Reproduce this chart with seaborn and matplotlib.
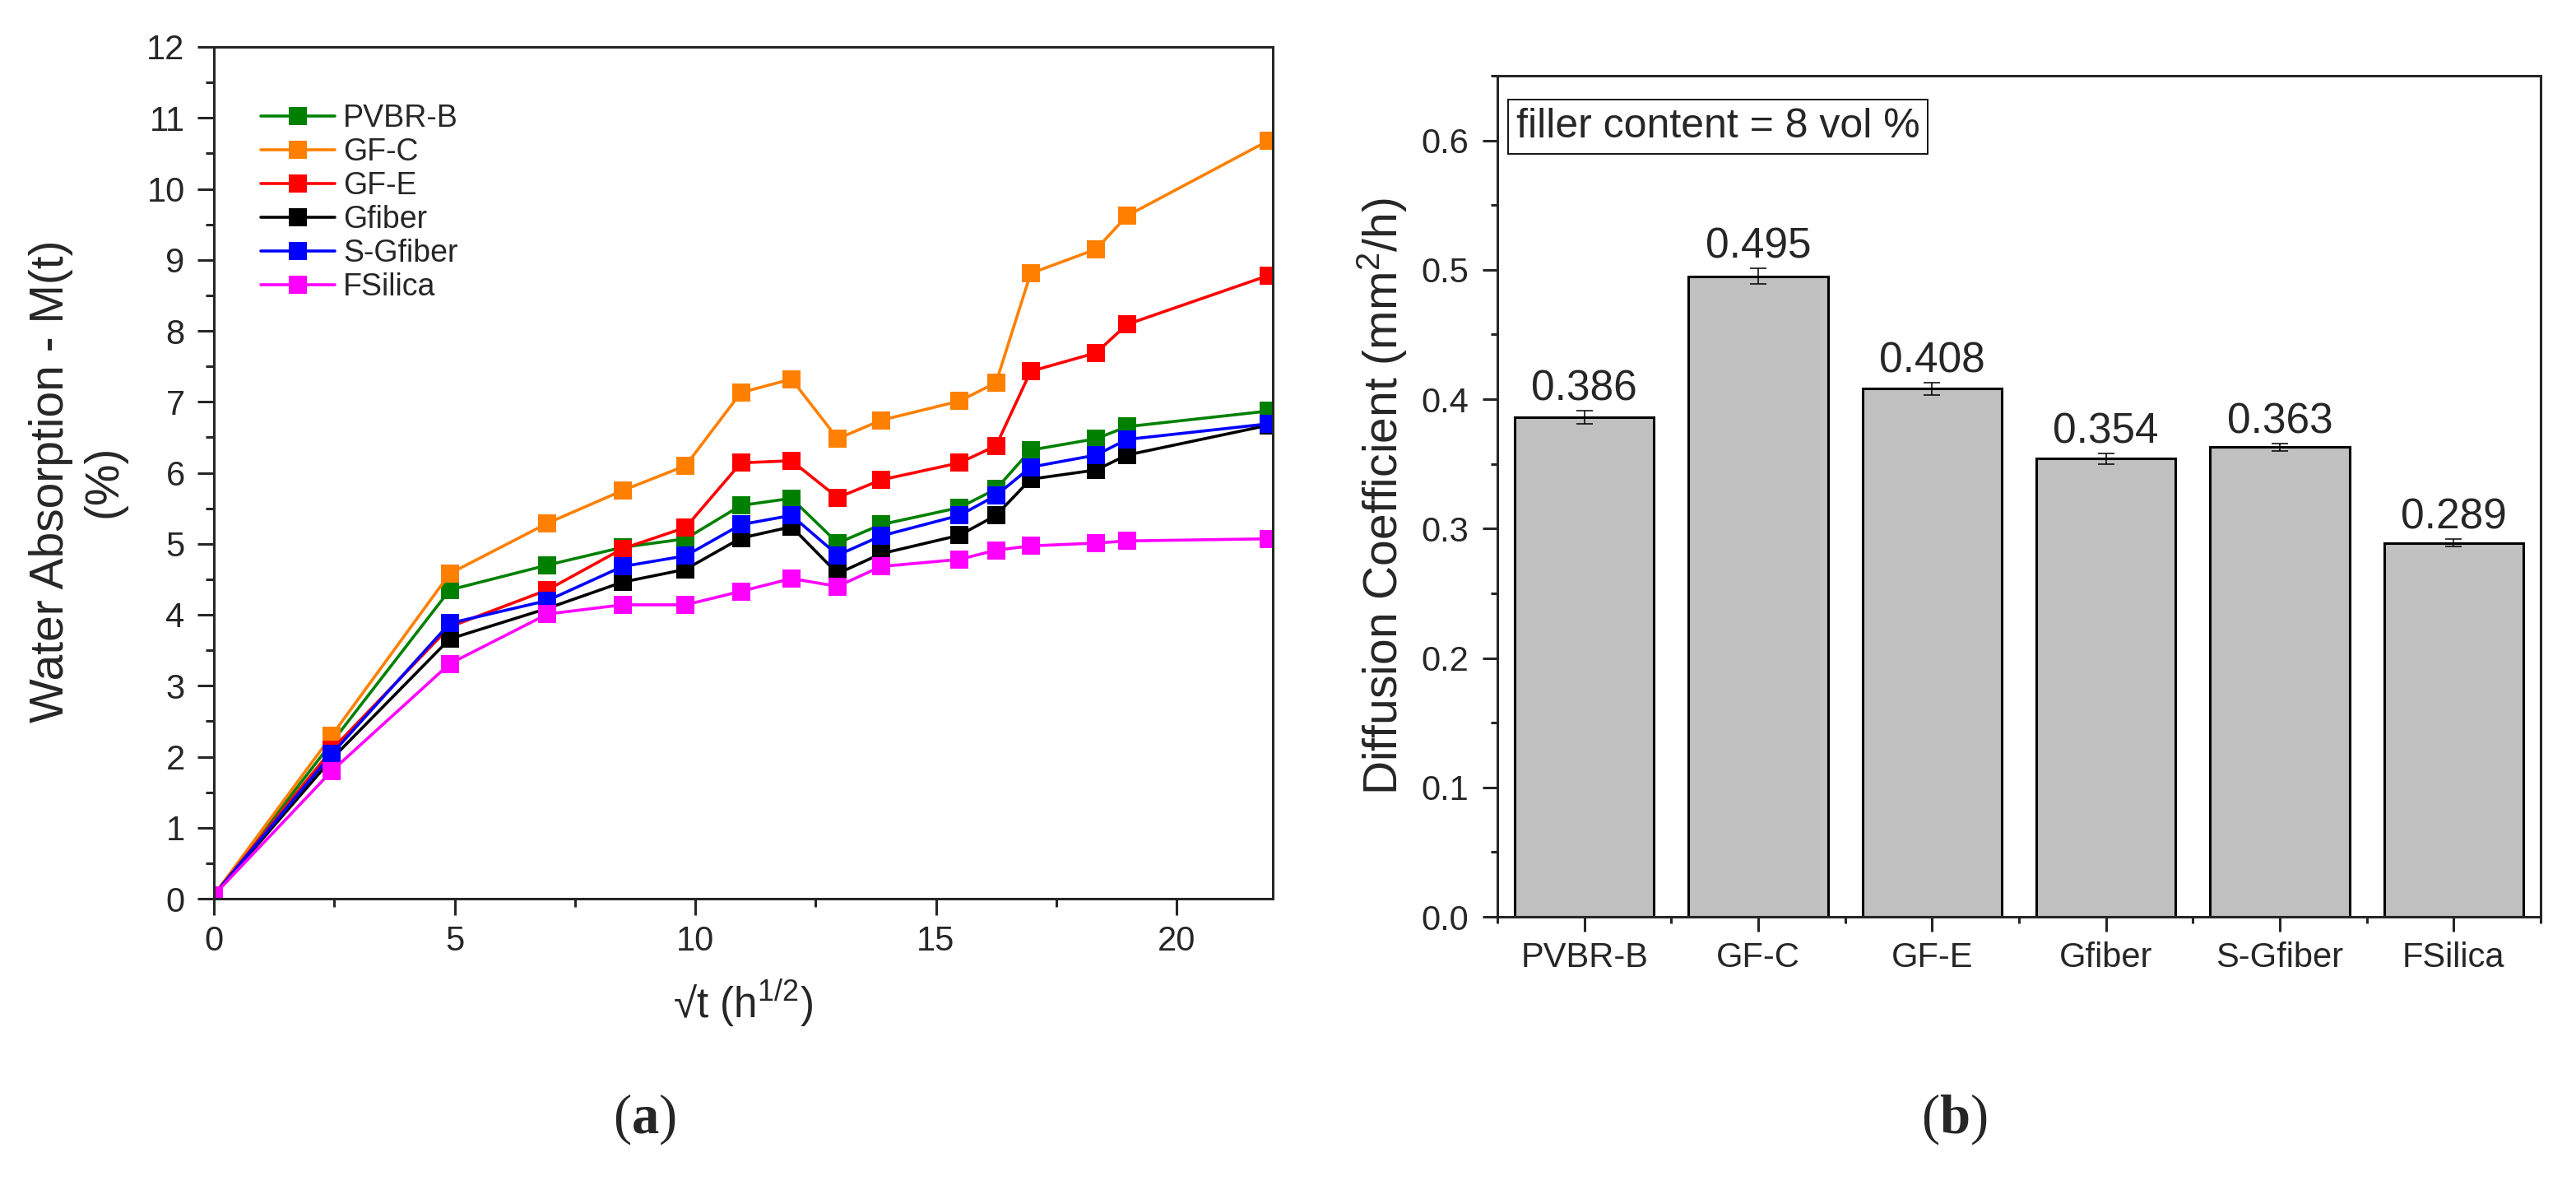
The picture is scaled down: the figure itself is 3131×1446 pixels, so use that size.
import numpy as np
import pandas as pd
import matplotlib
matplotlib.use('Agg')
import matplotlib.pyplot as plt
import seaborn as sns
from matplotlib.ticker import MultipleLocator, FixedLocator, FormatStrFormatter

# (a) water absorption vs sqrt(t)
sqrt_t = [0, 2.45, 4.90, 6.93, 8.49, 9.80, 10.95, 12.00, 12.96, 13.86, 15.49, 16.25, 16.97, 18.33, 18.97, 21.91]
pvbr_b = [0.05, 2.20, 4.35, 4.70, 4.95, 5.07, 5.54, 5.64, 5.01, 5.27, 5.51, 5.77, 6.32, 6.48, 6.65, 6.87]
gf_c = [0.05, 2.30, 4.58, 5.29, 5.75, 6.10, 7.13, 7.32, 6.48, 6.74, 7.01, 7.27, 8.81, 9.15, 9.62, 10.68]
gf_e = [0.05, 2.10, 3.83, 4.35, 4.93, 5.23, 6.14, 6.17, 5.65, 5.90, 6.14, 6.38, 7.43, 7.69, 8.09, 8.78]
gfiber = [0.05, 1.97, 3.66, 4.09, 4.46, 4.64, 5.08, 5.24, 4.58, 4.86, 5.12, 5.40, 5.91, 6.04, 6.25, 6.67]
s_gfiber = [0.05, 2.04, 3.88, 4.20, 4.68, 4.83, 5.27, 5.40, 4.84, 5.11, 5.40, 5.68, 6.08, 6.25, 6.47, 6.69]
fsilica = [0.05, 1.80, 3.31, 4.01, 4.14, 4.14, 4.33, 4.51, 4.40, 4.68, 4.78, 4.91, 4.97, 5.01, 5.04, 5.07]

samples = ['PVBR-B', 'GF-C', 'GF-E', 'Gfiber', 'S-Gfiber', 'FSilica']
line_colors = ['#008000', '#FF8000', '#FF0000', '#000000', '#0000FF', '#FF00FF']

# (b) diffusion coefficient
diff_coef = [0.386, 0.495, 0.408, 0.354, 0.363, 0.289]
diff_err = [0.005, 0.006, 0.005, 0.004, 0.003, 0.003]

df = pd.concat([pd.DataFrame({'t': sqrt_t, 'M': vals, 'sample': name})
                for name, vals in zip(samples, [pvbr_b, gf_c, gf_e, gfiber, s_gfiber, fsilica])],
               ignore_index=True)

sns.set_style('ticks')
plt.rcParams['font.family'] = ['Liberation Sans', 'DejaVu Sans']
plt.rcParams['mathtext.fontset'] = 'custom'
plt.rcParams['mathtext.rm'] = 'Liberation Sans'
plt.rcParams['mathtext.it'] = 'Liberation Sans:italic'
plt.rcParams['mathtext.bf'] = 'Liberation Serif:bold'
plt.rcParams['axes.linewidth'] = 2.2

W, H = 3131, 1446
fig = plt.figure(figsize=(W / 100, H / 100), dpi=100)
ax1 = fig.add_axes([260 / W, 1 - 1092 / H, (1547 - 260) / W, (1092 - 57) / H])
ax2 = fig.add_axes([1820 / W, 1 - 1114 / H, (3088 - 1820) / W, (1114 - 92) / H])

# ---- panel (a)
sns.lineplot(data=df, x='t', y='M', hue='sample', hue_order=samples, palette=line_colors,
             sort=False, errorbar=None, marker='s', markersize=15.5, markeredgewidth=0,
             linewidth=2.6, ax=ax1, legend=False)
ax1.set_xlim(0, 22)
ax1.set_ylim(0, 12)
ax1.xaxis.set_major_locator(MultipleLocator(5))
ax1.xaxis.set_minor_locator(MultipleLocator(2.5))
ax1.yaxis.set_major_locator(MultipleLocator(1))
ax1.yaxis.set_minor_locator(MultipleLocator(0.5))
ax1.tick_params(which='major', direction='out', length=14.4, width=2.2, labelsize=30)
ax1.tick_params(which='minor', direction='out', length=7, width=2.2)
ax1.tick_params(axis='x', which='major', pad=8.6)
ax1.tick_params(axis='y', which='major', pad=11)
ax1.set_xlabel('√t (h$^{1/2}$)', fontsize=37)
ax1.set_ylabel('Water Absorption - M(t)\n(%)', fontsize=41, linespacing=1.25)
ax1.xaxis.set_label_coords(0.5, -0.093)
ax1.yaxis.set_label_coords(-0.083, 0.49)
for sp in ax1.spines.values():
    sp.set_visible(True)
    sp.set_linewidth(2.2)

handles = ax1.get_lines()[:len(samples)]
ax1.legend(handles, samples, loc='upper left', bbox_to_anchor=(0.0443, 0.933), frameon=False,
           fontsize=27, handlelength=2.4, handletextpad=0.27, labelspacing=0.13,
           borderpad=0, borderaxespad=0)

# ---- panel (b)
sns.barplot(x=samples, y=diff_coef, color='#c0c0c0', saturation=1, edgecolor='black',
            linewidth=2.2, width=0.8, errorbar=None, ax=ax2)
pos = np.arange(len(samples))
ax2.errorbar(pos, diff_coef, yerr=diff_err, fmt='none', ecolor='black', elinewidth=1.1,
             capsize=7.2, capthick=1.1)
for p, v, e in zip(pos, diff_coef, diff_err):
    ax2.annotate(f'{v:.3f}', xy=(p, v + e), xytext=(0, 9), textcoords='offset points',
                 ha='center', va='baseline', fontsize=37)
ax2.set_xlim(-0.5, 5.5)
ax2.set_ylim(0, 0.65)
ax2.yaxis.set_major_locator(MultipleLocator(0.1))
ax2.yaxis.set_minor_locator(MultipleLocator(0.05))
ax2.yaxis.set_major_formatter(FormatStrFormatter('%.1f'))
ax2.xaxis.set_minor_locator(FixedLocator(np.arange(-0.5, len(samples), 1)))
ax2.tick_params(which='major', direction='out', length=13, width=2.2, labelsize=30)
ax2.tick_params(which='minor', direction='out', length=6, width=2.2)
ax2.tick_params(axis='x', which='major', pad=8.6)
ax2.tick_params(axis='y', which='major', pad=12)
ax2.set_xlabel('')
ax2.set_ylabel('Diffusion Coefficient (mm$^2$/h)', fontsize=41)
ax2.yaxis.set_label_coords(-0.084, 0.5)
for sp in ax2.spines.values():
    sp.set_visible(True)
    sp.set_linewidth(2.2)
ax2.text(0.018, 0.962, 'filler content = 8 vol %', transform=ax2.transAxes, ha='left', va='top',
         fontsize=36, bbox=dict(boxstyle='square,pad=0.2', fc='white', ec='black', lw=1.3))

# panel letters
fig.text(783 / W, 1 - 1360 / H, r'($\mathbf{a}$)', family='Liberation Serif', fontsize=48,
         ha='center', va='center')
fig.text(2375 / W, 1 - 1360 / H, r'($\mathbf{b}$)', family='Liberation Serif', fontsize=48,
         ha='center', va='center')

fig.savefig('out.png', dpi=100)
